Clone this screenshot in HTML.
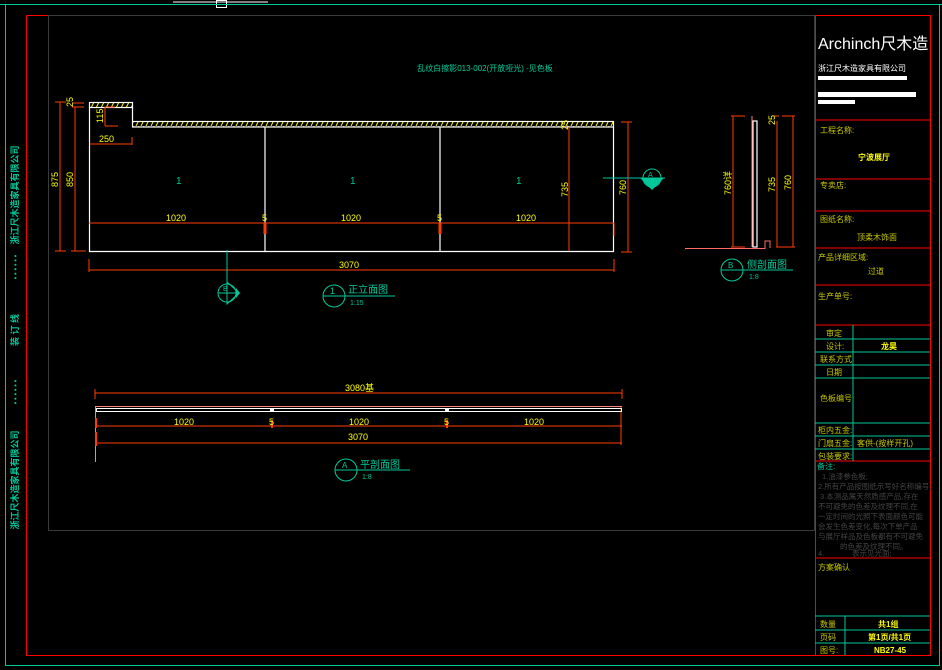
<!DOCTYPE html>
<html><head><meta charset="utf-8"><style>
html,body{margin:0;padding:0;background:#000;}
svg{display:block;}
text{font-family:"Liberation Sans","Noto Sans CJK SC",sans-serif;}
</style></head><body>
<svg width="942" height="670" viewBox="0 0 942 670" xmlns="http://www.w3.org/2000/svg">
<defs>
<pattern id="h" width="5" height="6" patternUnits="userSpaceOnUse">
<line x1="1" y1="6" x2="4" y2="0" stroke="#ffff00" stroke-width="1"/>
</pattern>
</defs>
<rect width="942" height="670" fill="#000"/>
<line x1="173" y1="2" x2="268" y2="2" stroke="#fff"/>
<line x1="0" y1="4.5" x2="942" y2="4.5" stroke="#00c89a"/>
<rect x="216.5" y="0.5" width="10" height="7" fill="none" stroke="#fff"/>
<rect x="5.5" y="4.5" width="934" height="661" fill="none" stroke="#00c89a"/>
<rect x="26.5" y="15.5" width="904" height="640" fill="none" stroke="#ff0000"/>
<rect x="48.5" y="15.5" width="766" height="515" fill="none" stroke="#3a3a3a" />
<g fill="#00c89a" font-size="9" font-weight="bold">
<text transform="translate(18,195) rotate(-90)" text-anchor="middle">浙江尺木造家具有限公司</text>
<text transform="translate(18,330) rotate(-90)" text-anchor="middle">装 订 线</text>
<text transform="translate(18,480) rotate(-90)" text-anchor="middle">浙江尺木造家具有限公司</text>
<text transform="translate(18,267) rotate(-90)" text-anchor="middle" font-size="7">• • • • • •</text>
<text transform="translate(18,392) rotate(-90)" text-anchor="middle" font-size="7">• • • • • •</text>
</g>
<text x="485" y="71" fill="#00c89a" font-size="8" text-anchor="middle">乱纹白擦影013-002(开放哑光) -见色板</text>

<g fill="none" stroke="#fff" stroke-width="1.2">
<rect x="89.5" y="102.5" width="43" height="5" fill="url(#h)"/>
<rect x="132.5" y="121.5" width="481" height="5.5" fill="url(#h)"/>
<polyline points="89.5,107 89.5,251.5 613.5,251.5 613.5,127"/>
<line x1="132.5" y1="107" x2="132.5" y2="121"/>
<line x1="265" y1="127" x2="265" y2="251"/>
<line x1="440" y1="127" x2="440" y2="251"/>
</g>
<g fill="#00c89a" font-size="10"><text x="176" y="184">1</text><text x="350" y="184">1</text><text x="516" y="184">1</text></g>
<g stroke="#ff3c00" fill="none" stroke-width="1">
<line x1="60" y1="102" x2="60" y2="251"/><line x1="55" y1="102" x2="66" y2="102"/><line x1="55" y1="251" x2="66" y2="251"/>
<line x1="75" y1="107" x2="75" y2="251"/><line x1="71" y1="251" x2="86" y2="251"/><line x1="72" y1="103" x2="84" y2="103"/><line x1="72" y1="107" x2="84" y2="107"/>
<line x1="90" y1="144" x2="132" y2="144"/><line x1="132" y1="137" x2="132" y2="145"/>
<line x1="105" y1="107" x2="105" y2="126"/><line x1="105" y1="126" x2="118" y2="126"/><line x1="105" y1="107" x2="115" y2="107"/>
<line x1="89" y1="223" x2="614" y2="223"/>
<line x1="89" y1="270" x2="614" y2="270"/><line x1="89" y1="259" x2="89" y2="272"/><line x1="614" y1="259" x2="614" y2="272"/>
<line x1="569" y1="127" x2="569" y2="251"/>
<line x1="628" y1="122" x2="628" y2="252"/><line x1="621" y1="122" x2="632" y2="122"/><line x1="621" y1="252" x2="632" y2="252"/>
<line x1="614" y1="223" x2="614" y2="236"/>
</g>
<g stroke="#ff3c00" stroke-width="3"><line x1="265" y1="223" x2="265" y2="234"/><line x1="440" y1="223" x2="440" y2="234"/></g>
<g fill="#ffff00" font-size="9">
<text x="99" y="142">250</text>
<text transform="translate(103,123) rotate(-90)">115</text>
<text transform="translate(73,107) rotate(-90)">25</text>
<text transform="translate(58,187) rotate(-90)">875</text>
<text transform="translate(73,187) rotate(-90)">850</text>
<text x="166" y="221">1020</text><text x="341" y="221">1020</text><text x="516" y="221">1020</text>
<text x="262" y="221">5</text><text x="437" y="221">5</text>
<text x="339" y="268">3070</text>
<text transform="translate(568,197) rotate(-90)">735</text>
<text transform="translate(568,130) rotate(-90)">25</text>
<text transform="translate(626,195) rotate(-90)">760</text>
</g>
<g stroke="#00c89a" fill="none">
<line x1="227" y1="250" x2="227" y2="282"/>
<circle cx="227" cy="293" r="9"/><line x1="218" y1="293" x2="236" y2="293"/>
</g>
<path d="M227,282 L239,293 L227,304 Z" fill="none" stroke="#00c89a"/>
<path d="M236,288 L240,293 L236,298 Z" fill="#00c89a"/>
<text x="223" y="291" fill="#00c89a" font-size="7">B</text>
<g stroke="#00c89a" fill="none"><circle cx="334" cy="296" r="11"/><line x1="323" y1="296" x2="395" y2="296"/></g>
<text x="330" y="294" fill="#00c89a" font-size="9">1</text>
<text x="348" y="293" fill="#00c89a" font-size="10">正立面图</text>
<text x="350" y="305" fill="#00c89a" font-size="7">1:15</text>
<g stroke="#00c89a" fill="none">
<line x1="603" y1="178" x2="665" y2="178"/><circle cx="652" cy="178" r="9"/>
</g>
<path d="M640,178 L664,178 L652,190 Z" fill="#00c89a"/>
<text x="648" y="177" fill="#00c89a" font-size="7">A</text>

<g fill="none" stroke="#fff" stroke-width="1.2">
<rect x="753" y="121" width="4" height="126"/>
</g>
<line x1="752" y1="116" x2="752" y2="247" stroke="#ff8080"/>
<polyline points="685,248.5 765,248.5 765,241 770,241 770,248" fill="none" stroke="#ff6a6a"/>
<g stroke="#ff3c00" fill="none">
<line x1="733" y1="116" x2="733" y2="247"/><line x1="731" y1="116" x2="745" y2="116"/><line x1="731" y1="247" x2="745" y2="247"/>
<line x1="777" y1="121" x2="777" y2="247"/><line x1="773" y1="116" x2="779" y2="116"/>
<line x1="793" y1="116" x2="793" y2="247"/><line x1="782" y1="116" x2="795" y2="116"/><line x1="776" y1="247" x2="795" y2="247"/>
</g>
<g fill="#ffff00" font-size="9">
<text transform="translate(731,195) rotate(-90)">760详</text>
<text transform="translate(775,192) rotate(-90)">735</text>
<text transform="translate(775,125) rotate(-90)">25</text>
<text transform="translate(791,190) rotate(-90)">760</text>
</g>
<g stroke="#00c89a" fill="none"><circle cx="732" cy="270" r="11"/><line x1="721" y1="270" x2="793" y2="270"/></g>
<text x="728" y="268" fill="#00c89a" font-size="8">B</text>
<text x="747" y="268" fill="#00c89a" font-size="10">侧剖面图</text>
<text x="749" y="279" fill="#00c89a" font-size="7">1:8</text>

<g stroke="#ff3c00" fill="none">
<line x1="95" y1="393" x2="622" y2="393"/><line x1="95" y1="389" x2="95" y2="399"/><line x1="622" y1="389" x2="622" y2="399"/>
<line x1="95" y1="426" x2="622" y2="426"/><line x1="95" y1="443" x2="622" y2="443"/>
<line x1="621" y1="406" x2="621" y2="445"/>
</g>
<line x1="95.5" y1="406" x2="95.5" y2="462" stroke="#ff8080"/>
<line x1="96" y1="406.5" x2="622" y2="406.5" stroke="#ff8080"/>
<rect x="96.5" y="408.5" width="525" height="3" fill="none" stroke="#fff"/>
<rect x="270" y="408" width="4" height="4" fill="#fff"/><rect x="445" y="408" width="4" height="4" fill="#fff"/>
<g stroke="#ff3c00" stroke-width="2"><line x1="96" y1="418" x2="96" y2="428"/><line x1="96" y1="432" x2="96" y2="446"/><line x1="272" y1="420" x2="272" y2="428"/><line x1="447" y1="420" x2="447" y2="428"/></g>
<g fill="#ffff00" font-size="9">
<text x="345" y="391">3080基</text>
<text x="174" y="425">1020</text><text x="349" y="425">1020</text><text x="524" y="425">1020</text>
<text x="269" y="425">5</text><text x="444" y="425">5</text>
<text x="348" y="440">3070</text>
</g>
<g stroke="#00c89a" fill="none"><circle cx="346" cy="470" r="11"/><line x1="335" y1="470" x2="410" y2="470"/></g>
<text x="342" y="468" fill="#00c89a" font-size="8">A</text>
<text x="360" y="468" fill="#00c89a" font-size="10">平剖面图</text>
<text x="362" y="479" fill="#00c89a" font-size="7">1:8</text>

<g stroke="#ff0000" fill="none">
<rect x="815.5" y="15.5" width="115" height="640"/>
<line x1="815" y1="120" x2="930" y2="120"/><line x1="815" y1="179" x2="930" y2="179"/>
<line x1="815" y1="211" x2="930" y2="211"/><line x1="815" y1="248" x2="930" y2="248"/>
<line x1="815" y1="285" x2="930" y2="285"/><line x1="815" y1="325" x2="930" y2="325"/>
<line x1="815" y1="461" x2="930" y2="461"/><line x1="815" y1="558" x2="930" y2="558"/>
</g>
<g stroke="#00c89a" fill="none">
<line x1="815" y1="339" x2="930" y2="339"/><line x1="815" y1="352" x2="930" y2="352"/>
<line x1="815" y1="365" x2="930" y2="365"/><line x1="815" y1="378" x2="930" y2="378"/>
<line x1="815" y1="423" x2="930" y2="423"/><line x1="815" y1="436" x2="930" y2="436"/>
<line x1="815" y1="449" x2="930" y2="449"/>
<line x1="853" y1="325" x2="853" y2="461"/>
<line x1="815" y1="616" x2="930" y2="616"/><line x1="815" y1="630" x2="930" y2="630"/>
<line x1="815" y1="643" x2="930" y2="643"/>
<line x1="845" y1="616" x2="845" y2="655"/>
</g>
<text x="818" y="49" fill="#fff" font-size="16">Archinch尺木造</text>
<text x="818" y="71" fill="#fff" font-size="8">浙江尺木造家具有限公司</text>
<rect x="818" y="76" width="89" height="4" fill="#fff"/>
<rect x="818" y="92" width="98" height="5" fill="#fff"/>
<rect x="818" y="100" width="37" height="4" fill="#fff"/>
<g fill="#c8c800" font-size="8">
<text x="820" y="133">工程名称:</text>
<text x="820" y="188">专卖店:</text>
<text x="820" y="222">图纸名称:</text>
<text x="857" y="240">顶柔木饰面</text>
<text x="818" y="260">产品详细区域:</text>
<text x="868" y="274">过道</text>
<text x="818" y="299">生产单号:</text>
<text x="826" y="336">审定</text>
<text x="826" y="349">设计:</text>
<text x="820" y="362">联系方式</text>
<text x="826" y="375">日期</text>
<text x="820" y="401">色板编号</text>
<text x="818" y="433">柜内五金:</text>
<text x="818" y="446">门扇五金:</text>
<text x="857" y="446">客供-(按样开孔)</text>
<text x="818" y="459">包装要求:</text>
<text x="818" y="570">方案确认</text>
<text x="820" y="627">数量</text>
<text x="820" y="640">页码</text>
<text x="820" y="653">图号:</text>
</g>
<g fill="#ffff00" font-size="8" font-weight="bold">
<text x="858" y="160">宁波展厅</text>
<text x="881" y="349">龙昊</text>
<text x="878" y="627">共1组</text>
<text x="868" y="640">第1页/共1页</text>
<text x="874" y="653">NB27-45</text>
</g>
<text x="817" y="469" fill="#00c89a" font-size="8">备注:</text>
<g fill="#444" font-size="7.5">
<text x="822" y="479">1.油漆参色板;</text>
<text x="818" y="489">2.所有产品按图纸示写好名称编号;</text>
<text x="820" y="499">3.本测品属天然质感产品,存在</text>
<text x="818" y="509">不可避免的色差及纹理不同,在</text>
<text x="818" y="519">一定时间的光照下表面颜色可能</text>
<text x="818" y="529">会发生色差变化,每次下单产品</text>
<text x="818" y="539">与展厅样品及色板都有不可避免</text>
<text x="840" y="549">的色差及纹理不同。</text>
<text x="818" y="556">4.</text><text x="852" y="556">表示见光面;</text>
</g>
</svg>
</body></html>
